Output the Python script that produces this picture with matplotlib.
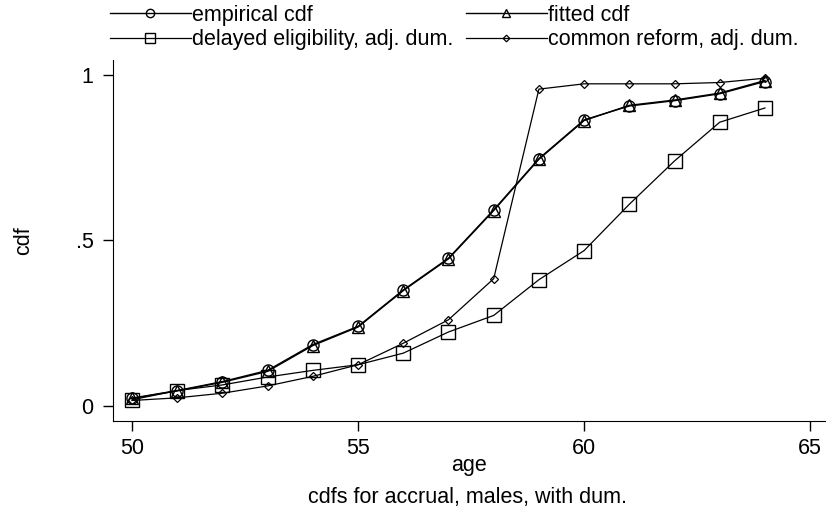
import matplotlib.pyplot as plt

plt.rcParams['font.family'] = ['Liberation Sans', 'DejaVu Sans']

age = [50, 51, 52, 53, 54, 55, 56, 57, 58, 59, 60, 61, 62, 63, 64]
empirical = [0.023, 0.046, 0.073, 0.107, 0.185, 0.240, 0.350, 0.446, 0.592,
             0.747, 0.864, 0.906, 0.922, 0.943, 0.980]
fitted = [0.022, 0.045, 0.071, 0.104, 0.182, 0.238, 0.348, 0.444, 0.590,
          0.745, 0.862, 0.908, 0.924, 0.945, 0.983]
delayed = [0.018, 0.046, 0.063, 0.087, 0.107, 0.124, 0.159, 0.223, 0.273,
           0.381, 0.469, 0.609, 0.740, 0.857, 0.900]
common = [0.016, 0.024, 0.038, 0.060, 0.089, 0.124, 0.189, 0.260, 0.384,
          0.957, 0.973, 0.973, 0.973, 0.977, 0.990]

labels = ['empirical cdf', 'fitted cdf',
          'delayed eligibility, adj. dum.', 'common reform, adj. dum.']

fig = plt.figure(figsize=(8.26, 5.13), dpi=100)
ax = fig.add_axes([113 / 826, 92 / 513, 713 / 826, 361 / 513])

ax.plot(age, empirical, color='black', lw=1.0, marker='o', ms=8,
        mfc='none', mec='black', mew=1.0, label=labels[0])
ax.plot(age, fitted, color='black', lw=1.0, marker='^', ms=8,
        mfc='none', mec='black', mew=1.0, label=labels[1])
ax.plot(age, delayed, color='black', lw=0.9, marker='s', ms=10,
        mfc='none', mec='black', mew=1.0, label=labels[2])
ax.plot(age, common, color='black', lw=0.9, marker='D', ms=4.5,
        mfc='none', mec='black', mew=0.9, label=labels[3])

ax.set_xlim(49.58, 65.35)
ax.set_ylim(-0.046, 1.045)
ax.set_xticks([50, 55, 60, 65])
ax.set_yticks([0, 0.5, 1])
ax.set_yticklabels(['0', '.5', '1'])
ax.spines['top'].set_visible(False)
ax.spines['right'].set_visible(False)
ax.tick_params(direction='out', length=7, width=1, labelsize=15.5, pad=5)
ax.tick_params(axis='y', pad=7)
ax.set_xlabel('age', fontsize=15.5, labelpad=-3)
ax.set_ylabel('cdf', fontsize=15.5, labelpad=30)

handles, labs = ax.get_legend_handles_labels()
order = [0, 2, 1, 3]
fig.legend([handles[i] for i in order], [labs[i] for i in order],
           loc='upper left', bbox_to_anchor=(110 / 826, 1 - 5 / 513),
           ncol=2, frameon=False, fontsize=15.5, borderpad=0,
           handlelength=3.75, handletextpad=0.05, columnspacing=0.6,
           labelspacing=0.15, borderaxespad=0, markerscale=0.75)

fig.text(468 / 826, 15 / 513, 'cdfs for accrual, males, with dum.',
         ha='center', va='center', fontsize=15.5)

fig.savefig('out.png', dpi=100)
